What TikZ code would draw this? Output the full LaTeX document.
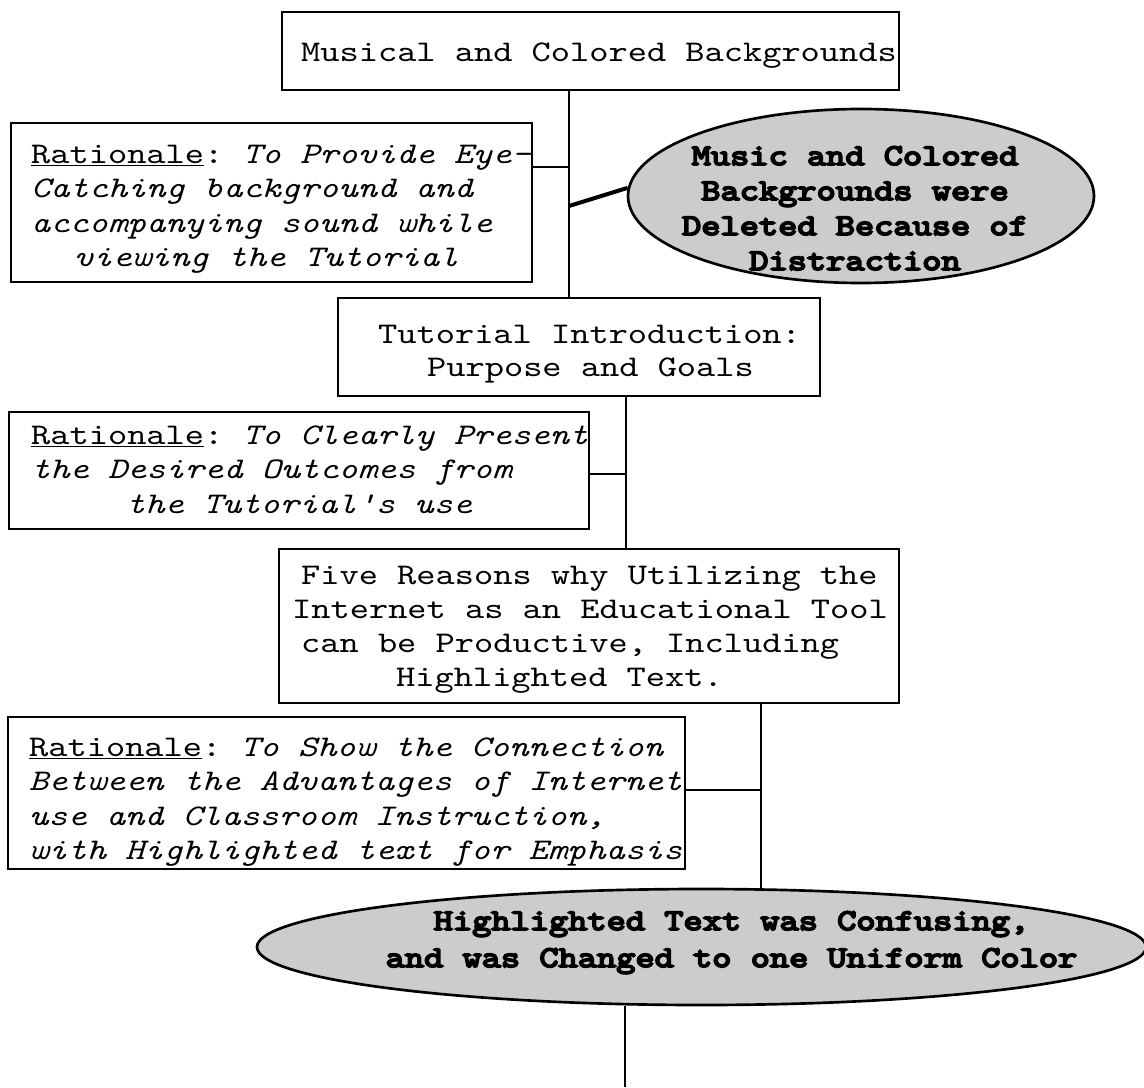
\documentclass[tikz,border=0pt]{standalone}
\usepackage{fontspec}
\usetikzlibrary{shapes.geometric}
% typewriter faces, widened to typewriter proportions
\newfontfamily\monotxt{lmmono10-regular}[Extension=.otf, ItalicFont=lmmono10-italic,
  FakeStretch=1.22]
\newfontfamily\monobold{lmmono10-regular}[Extension=.otf, FakeStretch=1.22, FakeBold=6]
% every space as wide as one letter cell
\newcommand\cellspace{\spaceskip=14.4pt\xspaceskip=14.4pt\relax}
\newcommand\boxfont{\monotxt\fontsize{22.5pt}{25.875pt}\selectfont}
\newcommand\ellfont{\monobold\fontsize{22.5pt}{26.25pt}\selectfont}
\newcommand\rat{\underline{Rationale}: }
\newcommand\txl[1]{\mbox{\cellspace #1}}
\newcommand\itl[1]{\mbox{\itshape\cellspace #1}}
\newcommand\ctl[1]{\makebox[0pt]{\cellspace #1}}

\begin{document}
\begin{tikzpicture}[x=0.75pt, y=-0.75pt,
  box/.style={draw, line width=1.8pt, anchor=north west, inner ysep=0pt,
    align=left, font=\boxfont},
  ell/.style={ellipse, draw, line width=2pt, fill=black!20, inner sep=0pt,
    align=center, text width=0pt, text height=0pt, font=\ellfont},
  conn/.style={line width=1.4pt},
  heavy/.style={line width=3pt}]
\useasboundingbox (0,0) rectangle (1144,1087);

% ---- boxes ----
\node[box, inner xsep=14.25pt, text width=434.25pt,
      text height=36.75pt, text depth=21.75pt] (t1) at (281,11)
  {\txl{Musical and Colored Backgrounds}};

\node[box, inner xsep=15pt, text width=360.75pt,
      text height=30pt, text depth=89.25pt] (r1) at (10,122)
  {\txl{\rat\itshape\cellspace To Provide Eye-}\\
   \itl{Catching background and}\\
   \itl{accompanying sound while}\\
   \hspace*{32.25pt}\itl{viewing the Tutorial}};

\node[box, inner xsep=30pt, text width=301.5pt,
      text height=33.75pt, text depth=39.75pt,
      font=\monotxt\fontsize{22.5pt}{24.75pt}\selectfont] (t2) at (337,297)
  {\txl{Tutorial Introduction:}\\
   \hspace*{36.75pt}\txl{Purpose and Goals}};

\node[box, inner xsep=16.5pt, text width=402pt,
      text height=24pt, text depth=63.75pt] (r2) at (8,411)
  {\txl{\rat\itshape\cellspace To Clearly Present}\\
   \itl{the Desired Outcomes from}\\
   \hspace*{71.25pt}\itl{the Tutorial's use}};

\node[box, inner xsep=9.75pt, text width=445.5pt,
      text height=26.25pt, text depth=89.25pt,
      font=\monotxt\fontsize{22.5pt}{25.5pt}\selectfont] (t3) at (278,548)
  {\hspace*{6.75pt}\txl{Five Reasons why Utilizing the}\\
   \txl{Internet as an Educational Tool}\\
   \hspace*{6.75pt}\txl{can be Productive, Including}\\
   \hspace*{78pt}\txl{Highlighted Text.}};

\node[box, inner xsep=15.75pt, text width=476.25pt,
      text height=29.25pt, text depth=84.75pt] (r3) at (7,716)
  {\txl{\rat\itshape\cellspace To Show the Connection}\\
   \itl{Between the Advantages of Internet}\\
   \itl{use and Classroom Instruction,}\\
   \itl{with Highlighted text for Emphasis}};

% ---- outcome ellipses ----
\node[ell, minimum width=349.5pt, minimum height=130.5pt, text depth=46.5pt] (e1) at (861,196)
  {\ctl{Music and Colored\hspace*{9pt}}\\
   \ctl{Backgrounds were\hspace*{9pt}}\\
   \ctl{Deleted Because of\hspace*{9pt}}\\
   \ctl{Distraction\hspace*{9pt}}};

\node[ell, minimum width=666.75pt, minimum height=87pt, text depth=25.5pt,
      font=\monobold\fontsize{22.5pt}{27.75pt}\selectfont] (e2) at (701.5,947)
  {\ctl{\hspace*{45pt}Highlighted Text was Confusing,}\\
   \ctl{\hspace*{45pt}and was Changed to one Uniform Color}};

% ---- junction points on the trunk lines ----
\coordinate (sA) at (569,0);
\coordinate (jr1) at (569,167);
\coordinate (je1) at (569,206);
\coordinate (sB) at (626,0);
\coordinate (jr2) at (626,474);
\coordinate (sC) at (761,0);
\coordinate (jr3) at (761,790);
\coordinate (endD) at (625,1087);

% ---- connectors ----
\draw[conn] (t1.south -| sA) -- (t2.north -| sA);
\draw[conn] (r1.east |- jr1) -- (jr1);
\draw[heavy] (je1) -- (e1.178);
\draw[conn] (t2.south -| sB) -- (t3.north -| sB);
\draw[conn] (r2.east |- jr2) -- (jr2);
\draw[conn] (t3.south -| sC) -- (e2.north -| sC);
\draw[conn] (r3.east |- jr3) -- (jr3);
\draw[conn] (e2.south -| endD) -- (endD);
\end{tikzpicture}
\end{document}
